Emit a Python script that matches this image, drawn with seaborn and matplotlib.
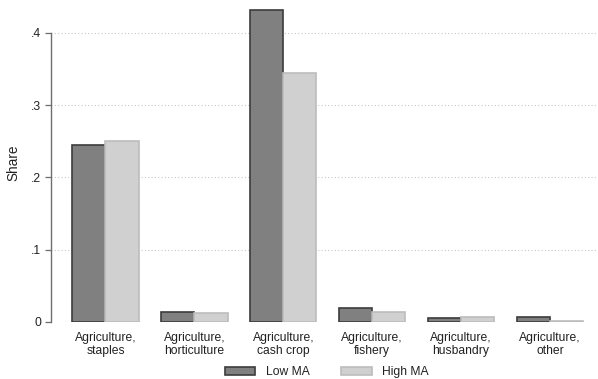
import matplotlib
matplotlib.use("Agg")
import matplotlib.pyplot as plt
from matplotlib.patches import Patch
import seaborn as sns
import pandas as pd

categories = ["Agriculture,\nstaples", "Agriculture,\nhorticulture", "Agriculture,\ncash crop",
              "Agriculture,\nfishery", "Agriculture,\nhusbandry", "Agriculture,\nother"]
low_ma = [0.245, 0.014, 0.432, 0.019, 0.005, 0.0065]
high_ma = [0.250, 0.013, 0.345, 0.0145, 0.0073, 0.002]
groups = ["Low MA", "High MA"]
y_ticks = [0, 0.1, 0.2, 0.3, 0.4]
y_tick_labels = ["0", ".1", ".2", ".3", ".4"]

df = pd.DataFrame({
    "category": categories * 2,
    "share": low_ma + high_ma,
    "group": [groups[0]] * len(categories) + [groups[1]] * len(categories),
})

fills = {"Low MA": "#808080", "High MA": "#d0d0d0"}
edges = {"Low MA": "#3c3c3c", "High MA": "#bcbcbc"}

sns.set_theme(style="white")
plt.rcParams["font.family"] = ["Liberation Sans", "DejaVu Sans"]

fig = plt.figure(figsize=(5.98, 3.79), dpi=100)
ax = fig.add_axes([51 / 598, 57 / 379, 547 / 598, 318 / 379])

sns.barplot(data=df, x="category", y="share", hue="group", order=categories,
            hue_order=groups, palette=fills, width=0.745, ax=ax, legend=False,
            saturation=1, linewidth=1.2)

n = len(categories)
for i, p in enumerate(ax.patches[: 2 * n]):
    g = groups[i // n]
    p.set_edgecolor(edges[g])
    p.set_linewidth(1.2)
    p.set_zorder(3)

ax.set_xlim(-0.613, 5.54)
ax.set_ylim(0, 0.44)
ax.set_yticks(y_ticks)
ax.set_yticklabels(y_tick_labels)
ax.yaxis.grid(True, linestyle=(0, (1, 2)), color="#c8c8c8", linewidth=0.8)
ax.set_axisbelow(True)

for s in ["top", "right", "bottom"]:
    ax.spines[s].set_visible(False)
ax.spines["left"].set_color("#6e6e6e")
ax.spines["left"].set_linewidth(1.0)
ax.spines["left"].set_bounds(0, 0.4)

ax.tick_params(axis="y", which="both", left=True, length=4, width=0.9, color="#6e6e6e",
               labelsize=8.7, labelcolor="#222222", pad=3)
ax.tick_params(axis="x", bottom=False, labelsize=8.7, labelcolor="#222222", pad=1)
for lbl in ax.get_xticklabels():
    lbl.set_linespacing(1.1)

ax.set_xlabel("")
ax.set_ylabel("Share", fontsize=9.8, color="#222222", va="center")
ax.yaxis.set_label_coords(-0.068, 0.5)

handles = [Patch(facecolor=fills[g], edgecolor=edges[g], linewidth=1.2, label=g) for g in groups]
fig.legend(handles=handles, loc="center", bbox_to_anchor=(327 / 598, 1 - 372 / 379),
           ncol=2, frameon=False, fontsize=8.7, handlelength=2.5, handleheight=0.6,
           columnspacing=2.6, handletextpad=0.9, labelcolor="#222222")

fig.savefig("out.png", dpi=100, facecolor="white")
